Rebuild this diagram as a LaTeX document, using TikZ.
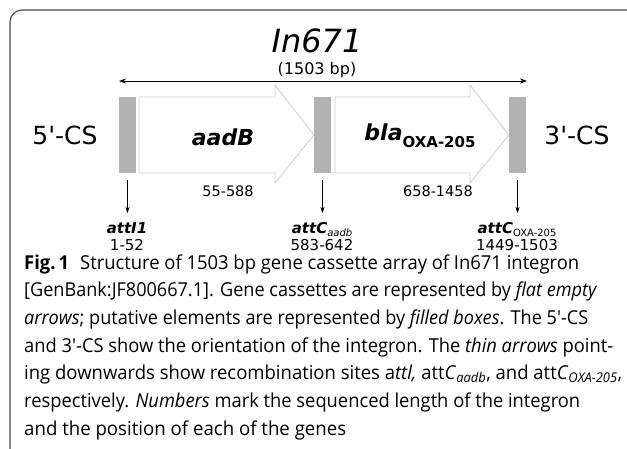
\documentclass[tikz,border=0pt]{standalone}
\usepackage{fontspec}
\usepackage{graphicx}
\setmainfont{DejaVu Sans}[Ligatures=TeXOff]
\newfontfamily\capfont{Open Sans}
\newcommand\capline[2]{\resizebox{#1}{\height}{#2}}
\usetikzlibrary{arrows.meta}
\begin{document}
\begin{tikzpicture}[x=1pt,y=-1pt,
  frame/.style={draw=black!70, line width=1.2pt, rounded corners=12pt},
  elem/.style={fill=black!30, draw=none, minimum width=17pt, minimum height=76pt, inner sep=0pt},
  cassette/.style={draw=black!20, fill=white, line width=0.8pt},
  span/.style={draw=black, line width=0.7pt, {Stealth[length=7pt,width=5pt]}-{Stealth[length=7pt,width=5pt]}},
  site/.style={draw=black, line width=0.7pt, -{Stealth[length=6pt,width=4pt]}},
  txt/.style={anchor=base, inner sep=0pt},
  captext/.style={anchor=base west, inner sep=0pt, font=\capfont\fontsize{19.2}{19.2}\selectfont},
]
\useasboundingbox (0,0) rectangle (627,448);
\draw[frame] (10,449) -- (10,10) -- (628,10);

% title
\node[txt, font=\fontsize{32}{32}\selectfont\itshape] (title) at (317,52) {In671};
\node[txt, font=\fontsize{16}{16}\selectfont] (len) at (317,74) {(1503 bp)};

% elements
\node[elem] (b1) at (127.5,135) {};
\node[elem] (b2) at (322.5,135) {};
\node[elem] (b3) at (517.5,135) {};

% cassettes
\draw[cassette] (139,97) -- (275,97) -- (275,85) -- (b2.west) -- (275,183) -- (275,173) -- (139,173) -- cycle;
\draw[cassette] (335,97) -- (470,97) -- (470,85) -- (b3.west) -- (470,183) -- (470,173) -- (335,173) -- cycle;

% span arrow
\coordinate (spL) at (119,81);
\coordinate (spR) at (527,81);
\draw[span] (spL) -- (spR);

% labels
\node[txt, font=\fontsize{25}{25}\selectfont] (cs5) at (65,144) {5\textquotesingle-CS};
\node[txt, font=\fontsize{25}{25}\selectfont] (cs3) at (577,144) {3\textquotesingle-CS};
\node[txt, font=\fontsize{22}{22}\selectfont\bfseries\itshape] (g1) at (223,145) {aadB};
\node[txt, font=\fontsize{22}{22}\selectfont\bfseries\itshape] (g2) at (420,140) {bla\raisebox{-7pt}{\fontsize{15}{15}\selectfont\upshape OXA-205}};
\node[txt, font=\fontsize{14.5}{14.5}\selectfont] (p1) at (228,196) {55-588};
\node[txt, font=\fontsize{14.5}{14.5}\selectfont] (p2) at (438,196) {658-1458};

% sites
\coordinate (s1a) at (127.5,180); \coordinate (s1b) at (127.5,213);
\coordinate (s2a) at (322.5,180); \coordinate (s2b) at (322.5,213);
\coordinate (s3a) at (517.5,180); \coordinate (s3b) at (517.5,213);
\draw[site] (s1a) -- (s1b);
\draw[site] (s2a) -- (s2b);
\draw[site] (s3a) -- (s3b);

\node[txt, font=\fontsize{15}{15}\selectfont\bfseries\itshape] (a1) at (127,233) {attI1};
\node[txt, font=\fontsize{15}{15}\selectfont\bfseries\itshape] (a2) at (322,233) {attC\raisebox{-3pt}{\fontsize{10}{10}\selectfont\mdseries\itshape aadb}};
\node[txt, font=\fontsize{15}{15}\selectfont\bfseries\itshape] (a3) at (517,233) {attC\raisebox{-3pt}{\fontsize{10}{10}\selectfont\mdseries\upshape OXA-205}};
\node[txt, font=\fontsize{15}{15}\selectfont] (n1) at (127,250) {1-52};
\node[txt, font=\fontsize{15}{15}\selectfont] (n2) at (322,250) {583-642};
\node[txt, font=\fontsize{15}{15}\selectfont] (n3) at (517,250) {1449-1503};

% caption
\node[captext] (c1) at (24,269) {\capline{555pt}{\textbf{Fig.\,1}\hspace{0.6em}Structure of 1503 bp gene cassette array of In671 integron}};
\node[captext] (c2) at (24,296.7) {\capline{573pt}{[GenBank:JF800667.1]. Gene cassettes are represented by \textit{flat empty}}};
\node[captext] (c3) at (24,324.4) {\capline{564pt}{\textit{arrows}; putative elements are represented by \textit{filled boxes}. The 5′-CS}};
\node[captext] (c4) at (24,352.1) {\capline{589pt}{and 3′-CS show the orientation of the integron. The \textit{thin arrows} point-}};
\node[captext] (c5) at (24,379.8) {\capline{598pt}{ing downwards show recombination sites a\textit{ttl,} att\textit{C}\textsubscript{\textit{aadb}}, and att\textit{C}\textsubscript{\textit{OXA-205}},}};
\node[captext] (c6) at (24,407.5) {\capline{556pt}{respectively. \textit{Numbers} mark the sequenced length of the integron}};
\node[captext] (c7) at (24,435.2) {\capline{322pt}{and the position of each of the genes}};
\end{tikzpicture}
\end{document}
